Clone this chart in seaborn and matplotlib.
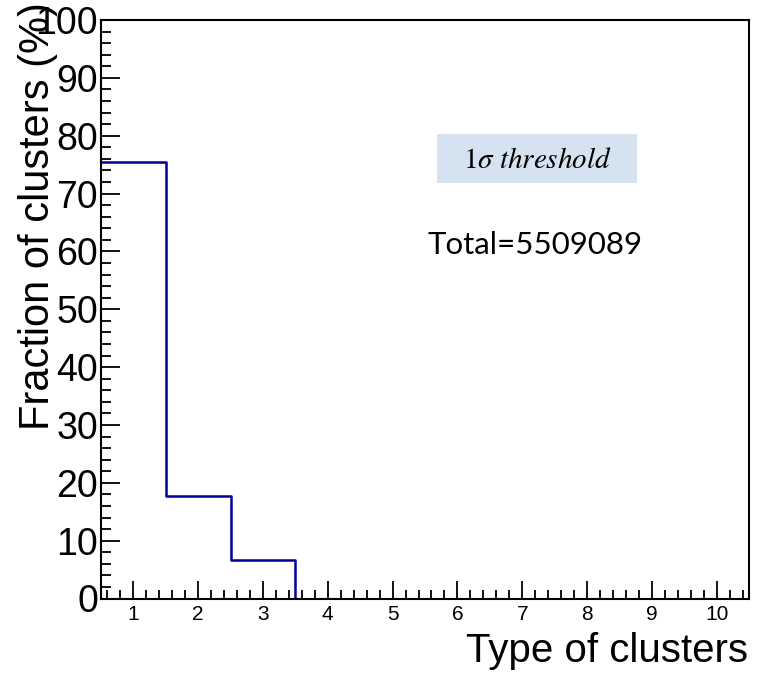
import numpy as np
import pandas as pd
import matplotlib
matplotlib.use("Agg")
import matplotlib.pyplot as plt
from matplotlib.ticker import MultipleLocator
from matplotlib.patches import Rectangle
import seaborn as sns

# ---- data ----
categories = [1, 2, 3, 4, 5, 6, 7, 8, 9, 10]
fractions = [75.4, 17.8, 6.7, 0.0, 0.0, 0.0, 0.0, 0.0, 0.0, 0.0]
x_ticks = [1, 2, 3, 4, 5, 6, 7, 8, 9, 10]
y_ticks = [0, 10, 20, 30, 40, 50, 60, 70, 80, 90, 100]
threshold_label = r"$1\sigma\ threshold$"
total_label = "Total=5509089"
x_title = "Type of clusters"
y_title = "Fraction of clusters (%)"

sns.set_theme(style="white")
plt.rcParams["font.family"] = ["Liberation Sans", "DejaVu Sans"]
plt.rcParams["text.color"] = "black"
plt.rcParams["xtick.color"] = "black"
plt.rcParams["ytick.color"] = "black"
plt.rcParams["xtick.labelcolor"] = "black"
plt.rcParams["ytick.labelcolor"] = "black"

df = pd.DataFrame({"type": categories, "fraction": fractions})

fig = plt.figure(figsize=(7.58, 6.74), dpi=100)
ax = fig.add_axes([101 / 758, 1 - 598.5 / 674, (749 - 101) / 758, (598.5 - 20) / 674])

sns.histplot(data=df, x="type", weights="fraction", discrete=True,
             element="step", fill=False,
             color="#000099", linewidth=1.8, ax=ax)

ax.set_xlim(0.5, 10.5)
ax.set_ylim(0, 100)
ax.set_xticks(x_ticks)
ax.set_yticks(y_ticks)
ax.xaxis.set_minor_locator(MultipleLocator(0.2))
ax.yaxis.set_minor_locator(MultipleLocator(2))
ax.tick_params(axis="x", which="major", direction="in", length=13, width=1.3,
               labelsize=15, pad=5, color="black", labelcolor="black",
               bottom=True, top=False)
ax.tick_params(axis="x", which="minor", direction="in", length=6.5, width=1.3,
               bottom=True, top=False, color="black")
ax.tick_params(axis="y", which="major", direction="in", length=14, width=1.3,
               labelsize=27, pad=2, color="black", labelcolor="black",
               left=True, right=False)
ax.tick_params(axis="y", which="minor", direction="in", length=7, width=1.3,
               left=True, right=False, color="black")
for s in ax.spines.values():
    s.set_visible(True)
    s.set_color("black")
    s.set_linewidth(1.5)

ax.set_xlabel("")
ax.set_ylabel("")

fig.text(38 / 758, 1 - 2 / 674, y_title, rotation=90, ha="center", va="top",
         fontsize=30, color="black")
fig.text(748 / 758, 1 - 670 / 674, x_title, ha="right", va="bottom",
         fontsize=29, color="black")

fig.add_artist(Rectangle((437 / 758, 1 - 183 / 674), 200 / 758, 49 / 674,
                         transform=fig.transFigure, facecolor="#d5e3f0",
                         edgecolor="none", zorder=3))
fig.text(537 / 758, 1 - 160 / 674, threshold_label, ha="center", va="center",
         fontsize=21, math_fontfamily="stix", color="black", zorder=4)
fig.text(535 / 758, 1 - 245 / 674, total_label, ha="center", va="center",
         fontsize=22.5, family=["Lato", "DejaVu Sans"], color="black")

fig.savefig("out.png", dpi=100)
